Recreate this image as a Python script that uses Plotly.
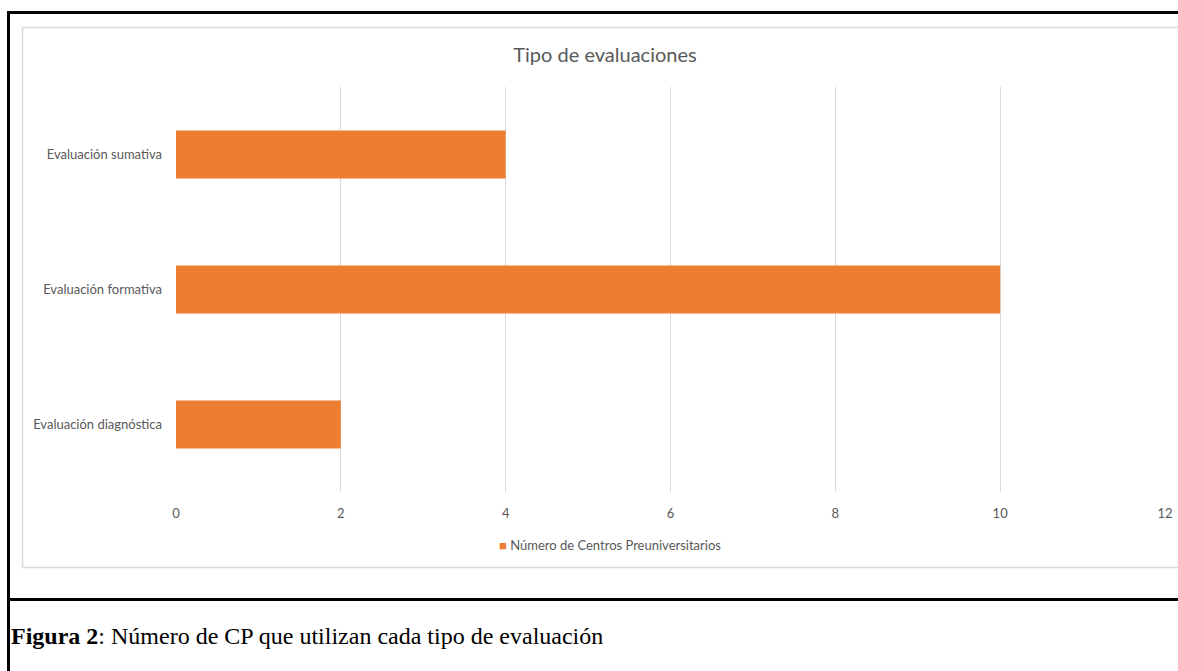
import plotly.graph_objects as go

# data
categories = ["Evaluación diagnóstica", "Evaluación formativa", "Evaluación sumativa"]
values = [2, 10, 4]
series_name = "Número de Centros Preuniversitarios"
x_ticks = [0, 2, 4, 6, 8, 10, 12]

ORANGE = "#ED7D31"
GREY_TEXT = "#595959"
FONT = "Lato, 'Open Sans', sans-serif"

W, H = 1178, 671
L, R, T, B = 176, 13, 87, 179
PW = W - L - R
PH = H - T - B


def px_x(x):
    # page pixel -> paper coordinate
    return (x - L) / PW


def px_y(y):
    return (H - B - y) / PH


fig = go.Figure()
fig.add_trace(go.Bar(y=categories,
                     x=values,
                     orientation="h",
                     name=series_name,
                     marker=dict(color=ORANGE, line=dict(width=0)),
                     showlegend=False))

fig.update_layout(
    width=W, height=H,
    margin=dict(l=L, r=R, t=T, b=B),
    paper_bgcolor="white",
    plot_bgcolor="white",
    bargap=0.645,
    font=dict(family=FONT, color=GREY_TEXT, size=13),
    title=dict(text="Tipo de evaluaciones",
               font=dict(size=20, color=GREY_TEXT, family=FONT),
               xref="paper", x=px_x(605), xanchor="center",
               yref="container", y=1 - 55 / H, yanchor="middle"),
    xaxis=dict(range=[0, 12], tickvals=x_ticks, showgrid=True,
               gridcolor="#D9D9D9", gridwidth=1, zeroline=False,
               showline=False, ticks="", ticklabelstandoff=12,
               automargin=False,
               tickfont=dict(size=13, color=GREY_TEXT)),
    yaxis=dict(showgrid=False, zeroline=False, showline=False, ticks="",
               ticklabelstandoff=13, automargin=False,
               tickfont=dict(size=13, color=GREY_TEXT)),
)

# legend drawn as text: small orange square + series name
fig.add_annotation(xref="paper", yref="paper",
                   x=px_x(610), y=px_y(545), xanchor="center", yanchor="middle",
                   text=f"<span style='color:{ORANGE}'>■</span> {series_name}",
                   showarrow=False,
                   font=dict(size=13, color=GREY_TEXT, family=FONT))

# chart frame (light grey)
fig.add_shape(type="rect", xref="paper", yref="paper",
              x0=px_x(22.5), x1=px_x(1190), y0=px_y(567.5), y1=px_y(27.5),
              line=dict(color="#D9D9D9", width=1.5), layer="below")
# outer black table borders
fig.add_shape(type="line", xref="paper", yref="paper",
              x0=px_x(7), x1=px_x(1190), y0=px_y(12.5), y1=px_y(12.5),
              line=dict(color="black", width=3))
fig.add_shape(type="line", xref="paper", yref="paper",
              x0=px_x(8.5), x1=px_x(8.5), y0=px_y(11), y1=px_y(680),
              line=dict(color="black", width=3))
fig.add_shape(type="line", xref="paper", yref="paper",
              x0=px_x(7), x1=px_x(1190), y0=px_y(599.5), y1=px_y(599.5),
              line=dict(color="black", width=3))

# caption
fig.add_annotation(xref="paper", yref="paper",
                   x=px_x(9), y=px_y(636), xanchor="left", yanchor="middle",
                   text="<b>Figura 2</b>: Número de CP que utilizan cada tipo de evaluación",
                   showarrow=False,
                   font=dict(family="'Liberation Serif', 'DejaVu Serif', serif",
                             size=24, color="black"))

# drop the default body margin so the figure fills the window
fig.write_html("out.html",
               config={"displayModeBar": False},
               post_script="document.body.style.margin = '0';")
